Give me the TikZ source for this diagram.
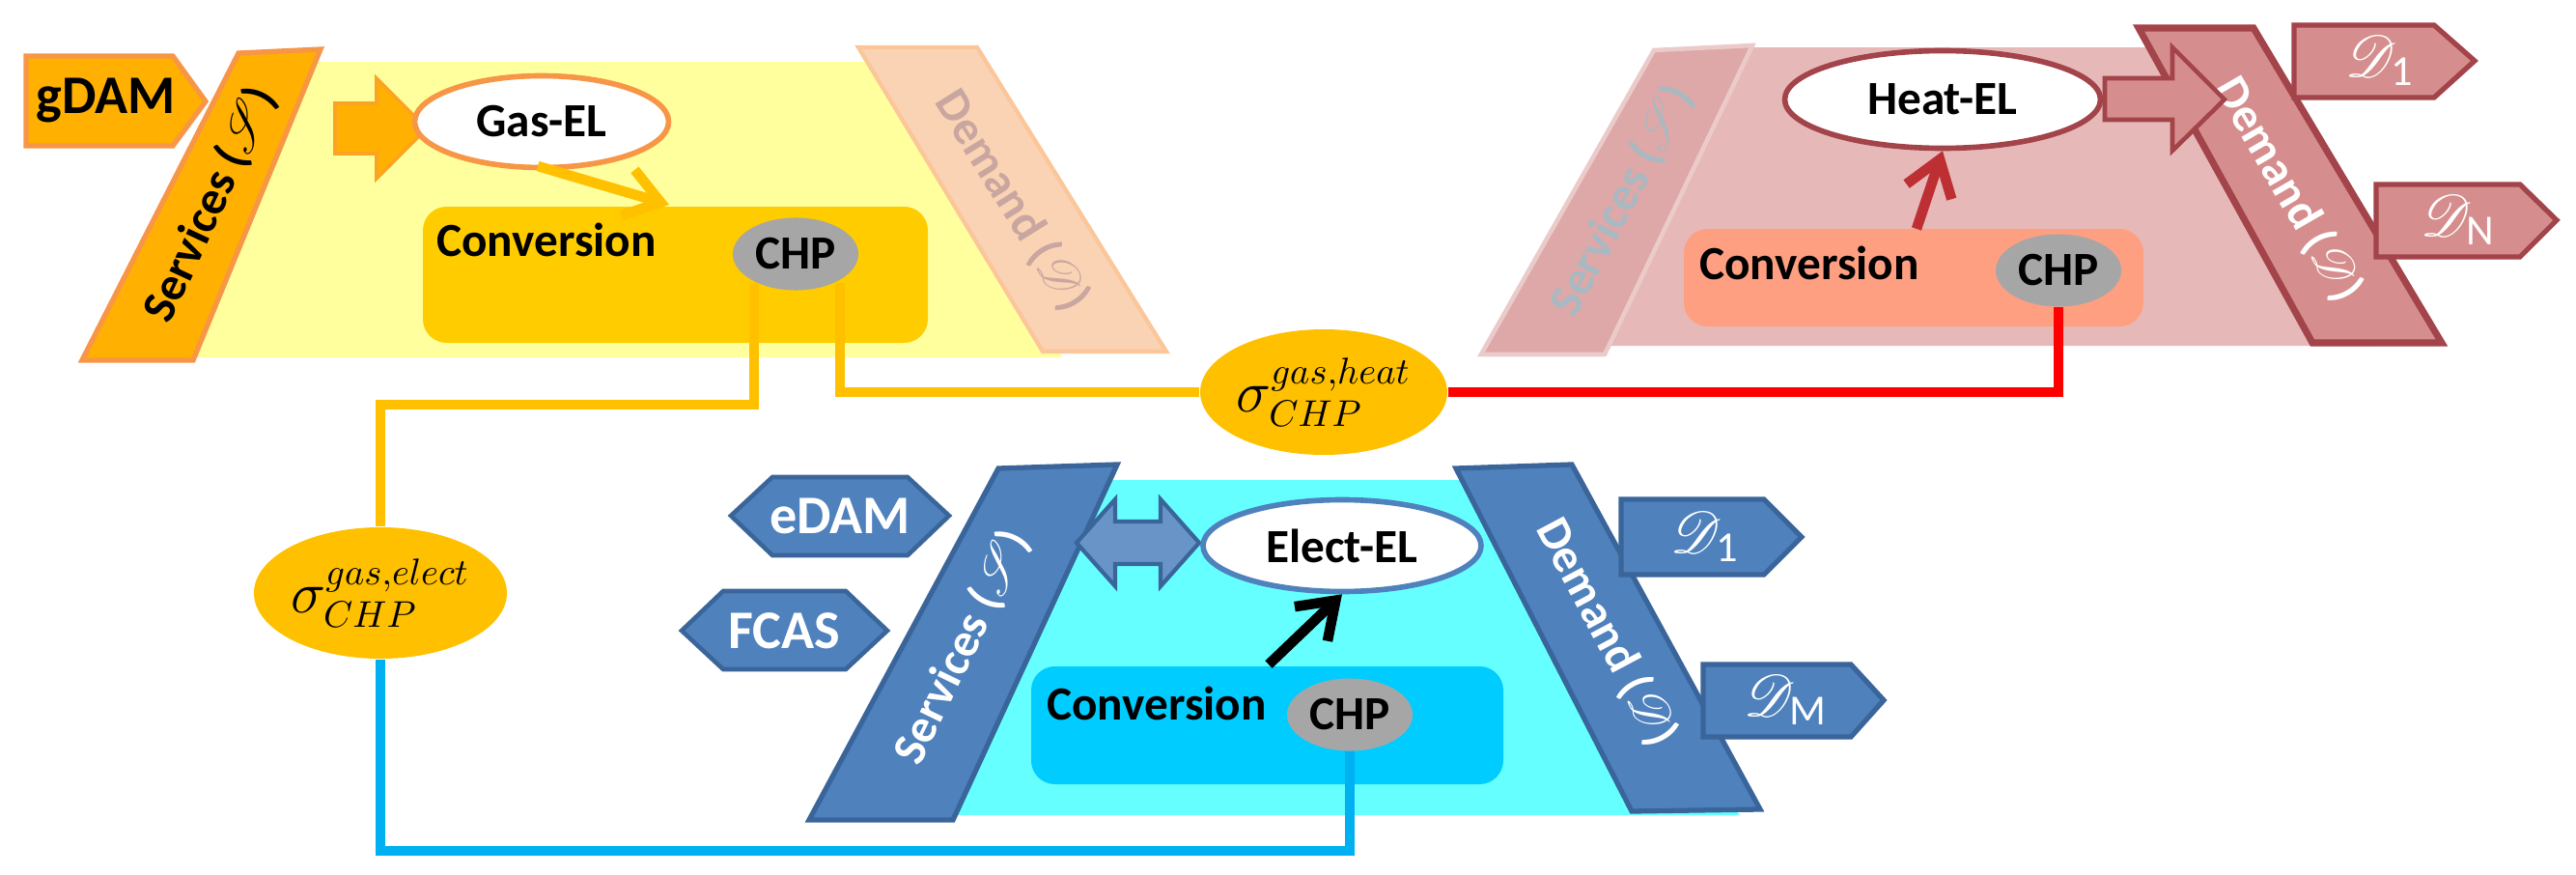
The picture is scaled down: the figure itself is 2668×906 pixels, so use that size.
\documentclass[tikz,border=0pt]{standalone}
\usepackage{fontspec}
\setmainfont{Carlito}
\usepackage{amsmath}
\usepackage{mathrsfs}
\usetikzlibrary{shapes.geometric,arrows.meta,calc}
\definecolor{gpanel}{HTML}{FFFF9E}
\definecolor{gband}{HTML}{FFB000}
\definecolor{gbandd}{HTML}{F79646}
\definecolor{gconv}{HTML}{FFCC00}
\definecolor{gdem}{HTML}{FAD3B4}
\definecolor{gdemt}{HTML}{C9A7A0}
\definecolor{gline}{HTML}{FFC000}
\definecolor{hpanel}{HTML}{E6B9B8}
\definecolor{hsrv}{HTML}{DDA8A7}
\definecolor{hsrvt}{HTML}{A9B9C2}
\definecolor{hdem}{HTML}{D58E8D}
\definecolor{hdemd}{HTML}{A3434A}
\definecolor{hconv}{HTML}{FF9F82}
\definecolor{hline}{HTML}{FF0000}
\definecolor{epanel}{HTML}{66FFFF}
\definecolor{eband}{HTML}{4F81BD}
\definecolor{ebandd}{HTML}{3A659A}
\definecolor{econv}{HTML}{00CCFF}
\definecolor{eline}{HTML}{00B0F0}
\tikzset{
  txt/.style={font=\fontsize{14}{16}\selectfont\bfseries},
  big/.style={font=\fontsize{16}{18}\selectfont\bfseries},
  band/.style={font=\fontsize{14}{16}\selectfont\bfseries,inner sep=0pt},
  dd/.style={text=white,font=\fontsize{18}{20}\selectfont},
  el/.style={ellipse,fill=white,line width=1.6pt,inner sep=0pt,txt},
  chp/.style={ellipse,fill=gray!70,minimum width=1.3cm,minimum height=0.75cm,inner sep=0pt,txt},
  conv/.style={rounded corners=7pt},
  sig/.style={ellipse,fill=gline,inner sep=0pt,font=\fontsize{16}{18}\selectfont},
  pent/.style={line width=1.5pt},
  link/.style={line width=3pt},
  arr/.style={line width=3pt,-{Straight Barb[length=10pt,width=14pt]}},
}
\begin{document}
\begin{tikzpicture}[x=0.01cm,y=-0.01cm]
\useasboundingbox (0,0) rectangle (2668,906);
% ---------------- gas panel
\fill[gpanel] (300,64) -- (900,64) -- (1100,370) -- (190,370) -- cycle;
\draw[gbandd,line width=1.5pt,fill=gband] (247,55) -- (332,51) -- (200,373) -- (85,373) -- cycle;
\node[rotate=65,band] (gs) at (218,212) {Services ($\mathscr{S}$)};
\draw[gbandd,line width=1.5pt,fill=gband] (27,58) -- (179,58) -- (213,105) -- (179,151) -- (27,151) -- cycle;
\node[big] (gdam) at (110,104) {gDAM};
\draw[gdem!85!orange,line width=1.2pt,fill=gdem] (889,49) -- (1012,49) -- (1208,364) -- (1080,364) -- cycle;
\node[rotate=-58,band,text=gdemt] (gd) at (1048,208) {Demand ($\mathscr{D}$)};
\fill[gconv,conv] (438,214) rectangle (961,355);
\node[txt,anchor=west] (gcv) at (440,248) {Conversion};
\node[chp] (gchp) at (824,263) {CHP};
\draw[gbandd!50!gband,fill=gband,line width=1pt] (347,107) -- (390,107) -- (390,81) -- (442,133) -- (390,185) -- (390,159) -- (347,159) -- cycle;
\node[el,draw=gbandd,minimum width=263*0.01cm,minimum height=95*0.01cm] (gel) at (561,126) {Gas-EL};
\draw[gline,arr] (557,172) -- (693,212);
% ---------------- heat panel
\fill[hpanel] (1780,49) -- (2240,49) -- (2460,358) -- (1600,358) -- cycle;
\draw[hsrv!60!white,line width=1.3pt,fill=hsrv] (1713,52) -- (1815,47) -- (1662,367) -- (1534,367) -- cycle;
\node[rotate=62,band,text=hsrvt] (hs) at (1680,208) {Services ($\mathscr{S}$)};
\draw[hdemd,line width=2pt,fill=hdem] (2215,29) -- (2334,29) -- (2529,355) -- (2395,355) -- cycle;
\node[rotate=-60,band,text=white] (hd) at (2370,196) {Demand ($\mathscr{D}$)};
\draw[hdemd,pent,fill=hdem] (2376,26) -- (2521,26) -- (2563,63) -- (2521,101) -- (2376,101) -- cycle;
\node[dd] (hd1) at (2465,63) {$\mathscr{D}_{\mathrm{1}}$};
\draw[hdemd,pent,fill=hdem] (2461,191) -- (2610,191) -- (2648,228) -- (2610,266) -- (2461,266) -- cycle;
\node[dd] (hdn) at (2546,228) {$\mathscr{D}_{\mathrm{N}}$};
\draw[hdemd,fill=hdem,line width=1.3pt] (2180,81) -- (2250,81) -- (2250,49) -- (2304,103) -- (2250,156) -- (2250,124) -- (2180,124) -- cycle;
\fill[hconv,conv] (1744,237) rectangle (2220,338);
\node[txt,anchor=west] (hcv) at (1748,272) {Conversion};
\node[chp] (hchp) at (2132,280) {CHP};
\node[el,draw=hdemd,minimum width=327*0.01cm,minimum height=101*0.01cm] (hel) at (2012,103) {Heat-EL};
\draw[hdemd!70!red,arr] (1985,237) -- (hel.south);
% ---------------- elect panel
\fill[epanel] (1140,497) -- (1520,497) -- (1802,844) -- (960,844) -- cycle;
\draw[ebandd,line width=1.5pt,fill=eband] (1034,485) -- (1157,481) -- (987,849) -- (838,849) -- cycle;
\node[rotate=64,band,text=white] (es) at (997,670) {Services ($\mathscr{S}$)};
\draw[ebandd,line width=1.5pt,fill=eband] (1508,485) -- (1628,481) -- (1823,838) -- (1690,840) -- cycle;
\node[rotate=-62,band,text=white] (ed) at (1664,655) {Demand ($\mathscr{D}$)};
\draw[ebandd,fill=eband,line width=1.3pt] (757,534) -- (800,494) -- (940,494) -- (983,534) -- (940,575) -- (800,575) -- cycle;
\node[big,text=white] (edam) at (870,534) {eDAM};
\draw[ebandd,fill=eband,line width=1.3pt] (706,653) -- (749,612) -- (876,612) -- (919,653) -- (876,693) -- (749,693) -- cycle;
\node[big,text=white] (fcas) at (812,653) {FCAS};
\draw[ebandd,pent,fill=eband] (1679,517) -- (1827,517) -- (1866,556) -- (1827,595) -- (1679,595) -- cycle;
\node[dd] (ed1) at (1766,556) {$\mathscr{D}_{\mathrm{1}}$};
\draw[ebandd,pent,fill=eband] (1764,688) -- (1917,688) -- (1951,725) -- (1917,763) -- (1764,763) -- cycle;
\node[dd] (edm) at (1850,725) {$\mathscr{D}_{\mathrm{M}}$};
\draw[ebandd,fill=eband!85!white,line width=1.2pt] (1115,562) -- (1155,517) -- (1155,540) -- (1202,540) -- (1202,517) -- (1242,562) -- (1202,607) -- (1202,584) -- (1155,584) -- (1155,607) -- cycle;
\fill[econv,conv] (1068,690) rectangle (1557,812);
\node[txt,anchor=west] (ecv) at (1072,728) {Conversion};
\node[chp] (echp) at (1398,740) {CHP};
\node[el,draw=eband,minimum width=288*0.01cm,minimum height=95*0.01cm] (eel) at (1390,565) {Elect-EL};
\draw[black,arr] (1314,688) -- (eel.south);
% ---------------- sigma ellipses and links
\node[sig,minimum width=232*0.01cm,minimum height=130*0.01cm] (sgh) at (1371,406) {$\sigma^{gas,heat}_{CHP}$};
\node[sig,minimum width=219*0.01cm,minimum height=136*0.01cm] (sge) at (394,614) {$\sigma^{gas,elect}_{CHP}$};
\coordinate (gl) at (781,419);
\coordinate (gr) at (870,407);
\coordinate (eb) at (394,881);
\draw[link,gline] ($(gchp.south -| gl)+(0,-8)$) -- (gl) -| (sge.north);
\draw[link,gline] ($(gchp.south -| gr)+(0,-8)$) |- (sgh.west);
\draw[link,hline] (sgh.east) -| (hchp.south);
\draw[link,eline] (sge.south) -- (eb) -| (echp.south);
\end{tikzpicture}
\end{document}
